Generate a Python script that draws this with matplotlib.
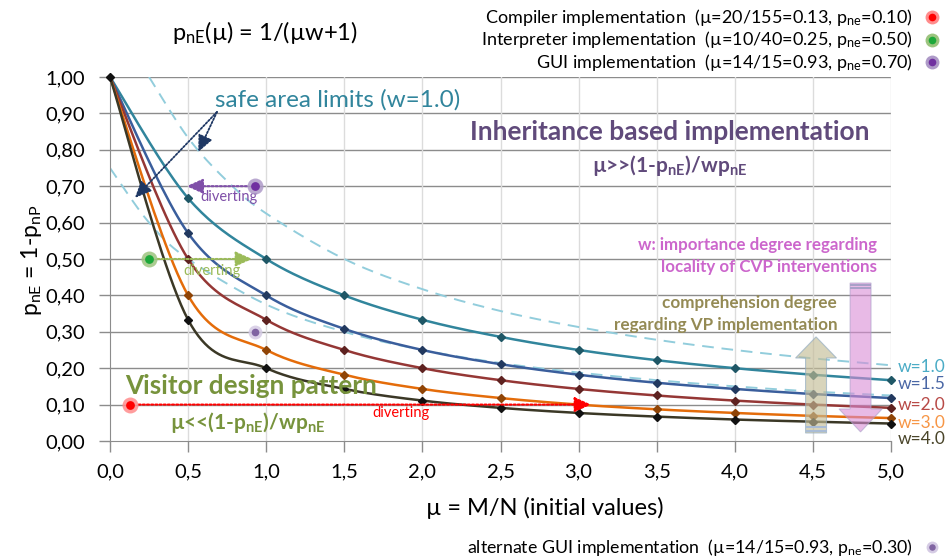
import numpy as np
import matplotlib
matplotlib.use('Agg')
import matplotlib.pyplot as plt
from matplotlib.patches import FancyArrow, Rectangle

plt.rcParams['font.family'] = ['Lato', 'DejaVu Sans']
plt.rcParams['mathtext.default'] = 'regular'

# model curves p = 1/(mu*w+1), sampled every 0.5
mu = [0.0, 0.5, 1.0, 1.5, 2.0, 2.5, 3.0, 3.5, 4.0, 4.5, 5.0]
p_w10 = [1.0, 0.667, 0.500, 0.400, 0.333, 0.286, 0.250, 0.222, 0.200, 0.182, 0.167]
p_w15 = [1.0, 0.571, 0.400, 0.308, 0.250, 0.211, 0.182, 0.160, 0.143, 0.129, 0.118]
p_w20 = [1.0, 0.500, 0.333, 0.250, 0.200, 0.167, 0.143, 0.125, 0.111, 0.100, 0.091]
p_w30 = [1.0, 0.400, 0.250, 0.182, 0.143, 0.118, 0.100, 0.087, 0.077, 0.069, 0.063]
p_w40 = [1.0, 0.333, 0.200, 0.143, 0.111, 0.091, 0.077, 0.067, 0.059, 0.053, 0.048]
w_labels = ['w=1.0', 'w=1.5', 'w=2.0', 'w=3.0', 'w=4.0']
w_label_y = [0.203, 0.157, 0.098, 0.049, 0.005]

# safe area limits around w=1.0
mu_upper = [0.25, 0.5, 0.75, 1.0, 1.5, 2.0, 2.5, 3.0, 3.5, 4.0, 4.5, 5.0]
p_upper = [1.0, 0.833, 0.714, 0.625, 0.500, 0.417, 0.357, 0.313, 0.278, 0.250, 0.227, 0.208]
mu_lower = [0.0, 0.25, 0.5, 1.0, 1.5, 2.0, 2.5, 3.0, 3.5, 4.0, 4.5, 5.0]
p_lower = [0.75, 0.600, 0.500, 0.375, 0.300, 0.250, 0.214, 0.188, 0.167, 0.150, 0.136, 0.125]

# implementations
impl_names = ['Compiler implementation', 'Interpreter implementation', 'GUI implementation',
              'alternate GUI implementation']
impl_ratio = ['20/155', '10/40', '14/15', '14/15']
impl_mu = [0.13, 0.25, 0.93, 0.93]
impl_p = [0.10, 0.50, 0.70, 0.30]
divert_to = [3.08, 0.91, 0.49]

line_colors = ['#31859C', '#3A5E9C', '#953735', '#E46C0A', '#3B3826']
mark_colors = ['#1F5766', '#22395F', '#5E2220', '#8F4406', '#111111']
wlab_colors = ['#4BACC6', '#4A67A5', '#B84A47', '#F79646', '#4A452A']
dot_colors = ['#FF0000', '#1DA83A', '#7030A0', '#8064A2']
halo_colors = ['#FF8C8C', '#9CC47E', '#AE9AC8', '#D5CBE4']


def smooth(xs, ys, n=24):
    # bezier smoothing through the points, like a spreadsheet "smoothed line"
    pts = np.column_stack([xs, ys]).astype(float)
    P = np.vstack([pts[0], pts, pts[-1]])
    t = np.linspace(0, 1, n)[:, None]
    segs = []
    for i in range(1, len(P) - 2):
        p0, p1, p2, p3 = P[i - 1], P[i], P[i + 1], P[i + 2]
        c1 = p1 + (p2 - p0) / 6
        c2 = p2 - (p3 - p1) / 6
        segs.append((1 - t) ** 3 * p1 + 3 * (1 - t) ** 2 * t * c1 + 3 * (1 - t) * t ** 2 * c2 + t ** 3 * p2)
    s = np.vstack(segs)
    return s[:, 0], s[:, 1]


fig = plt.figure(figsize=(9.49, 5.59), dpi=100)
ax = fig.add_axes([0.1159, 0.2111, 0.8230, 0.6512])
ax.set_xlim(0, 5)
ax.set_ylim(0, 1)

for y in np.arange(0.1, 1.01, 0.1):
    ax.axhline(y, color='#8C8C8C', lw=1, zorder=0)
for x in np.arange(0.5, 5.01, 0.5):
    ax.axvline(x, color='#DCDCDC', lw=1, zorder=0)
for s in ['top', 'right']:
    ax.spines[s].set_visible(False)
for s in ['left', 'bottom']:
    ax.spines[s].set_color('#8C8C8C')
ax.set_xticks(mu)
ax.set_xticklabels([('%.1f' % v).replace('.', ',') for v in mu])
yt = np.round(np.arange(0, 1.01, 0.1), 2)
ax.set_yticks(yt)
ax.set_yticklabels([('%.2f' % v).replace('.', ',') for v in yt])
ax.tick_params(colors='#8C8C8C', length=8, width=1, labelcolor='black', labelsize=14.5)
ax.tick_params(axis='y', pad=10)
ax.tick_params(axis='x', pad=8)

# dashed safe-area limits
ux, uy = smooth(mu_upper, p_upper)
lx, ly = smooth(mu_lower, p_lower)
ax.plot(ux, uy, color='#92CDDC', lw=1.4, ls=(0, (6, 4)), zorder=2)
ax.plot(lx, ly, color='#92CDDC', lw=1.4, ls=(0, (6, 4)), zorder=2)

curves = [p_w10, p_w15, p_w20, p_w30, p_w40]
for k in range(len(curves)):
    sx, sy = smooth(mu, curves[k])
    ax.plot(sx, sy, color=line_colors[k], lw=1.8, zorder=3, clip_on=False)
    ax.plot(mu[1:], curves[k][1:], ls='none', marker='D', ms=4.5, color=mark_colors[k],
            zorder=4, clip_on=False)
    ax.text(5.04, w_label_y[k], w_labels[k], color=wlab_colors[k], fontsize=12.5, va='center')
ax.plot(mu[0], p_w40[0], marker='D', ms=4.5, color='#111111', zorder=5, clip_on=False)

# block arrows
up = FancyArrow(4.52, 0.022, 0, 0.264, width=0.134, head_width=0.262, head_length=0.058,
                length_includes_head=True, facecolor='#C4BD97', alpha=0.65, edgecolor='#8EA9C1',
                lw=0.8, zorder=5)
ax.add_patch(up)
down = FancyArrow(4.805, 0.434, 0, -0.409, width=0.134, head_width=0.276, head_length=0.063,
                  length_includes_head=True, facecolor='#D98CD6', alpha=0.6, edgecolor='#A9A0C8',
                  lw=0.8, zorder=5)
ax.add_patch(down)
for yy in [0.026, 0.036]:
    ax.add_patch(Rectangle((4.453, yy), 0.134, 0.005, facecolor='#A9BCD6', edgecolor='none', zorder=6))
for yy in [0.418, 0.427]:
    ax.add_patch(Rectangle((4.738, yy), 0.134, 0.005, facecolor='#A9A0C8', edgecolor='none', zorder=6))

# implementation points with diverting arrows
for k in range(4):
    big = 11.5 if k < 3 else 10
    ax.plot(impl_mu[k], impl_p[k], 'o', ms=big, color=halo_colors[k], alpha=0.85, mec='none', zorder=7)
    ax.plot(impl_mu[k], impl_p[k], 'o', ms=big * 0.55, color=dot_colors[k], mec='none', zorder=8)

arrow_cols = ['#FF0000', '#9BBB59', '#7F4FA8']
for k in range(3):
    ax.annotate('', xy=(divert_to[k], impl_p[k]), xytext=(impl_mu[k], impl_p[k]),
                arrowprops=dict(arrowstyle='-|>,head_length=1.0,head_width=0.45', color=arrow_cols[k],
                                lw=1.5, ls=(0, (1, 1)), shrinkA=6, shrinkB=0), zorder=6)
ax.text(1.86, 0.077, 'diverting', color='#FF0000', fontsize=10.5, ha='center', va='center')
ax.text(0.65, 0.467, 'diverting', color='#9BBB59', fontsize=10.5, ha='center', va='center')
ax.text(0.76, 0.67, 'diverting', color='#7F4FA8', fontsize=10.5, ha='center', va='center')

# safe area annotation
ax.text(0.672, 0.937, 'safe area limits (w=1.0)', color='#31859C', fontsize=17.5, va='center')
for tip in [(0.565, 0.794), (0.16, 0.668)]:
    ax.annotate('', xy=tip, xytext=(0.685, 0.904),
                arrowprops=dict(arrowstyle='-|>,head_length=1.0,head_width=0.45', color='#1F3864',
                                lw=1.3, ls=(0, (1, 1)), shrinkA=0, shrinkB=0), zorder=6)

ax.text(3.585, 0.849, 'Inheritance based implementation', color='#604A7B', fontsize=19,
        fontweight='bold', ha='center', va='center')
ax.text(3.585, 0.758, 'µ>>(1-p$_{nE}$)/wp$_{nE}$', color='#604A7B', fontsize=15,
        fontweight='bold', ha='center', va='center')
ax.text(4.91, 0.538, 'w: importance degree regarding', color='#CC66CC', fontsize=12.2,
        fontweight='bold', ha='right', va='center')
ax.text(4.91, 0.478, 'locality of CVP interventions', color='#CC66CC', fontsize=12.2,
        fontweight='bold', ha='right', va='center')
ax.text(4.655, 0.379, 'comprehension degree', color='#948A54', fontsize=12.3,
        fontweight='bold', ha='right', va='center')
ax.text(4.655, 0.319, 'regarding VP implementation', color='#948A54', fontsize=12.3,
        fontweight='bold', ha='right', va='center')
ax.text(0.096, 0.151, 'Visitor design pattern', color='#77933C', fontsize=18.8,
        fontweight='bold', ha='left', va='center', zorder=9)
ax.text(0.88, 0.052, 'µ<<(1-p$_{nE}$)/wp$_{nE}$', color='#77933C', fontsize=15,
        fontweight='bold', ha='center', va='center', zorder=9)

fig.text(545 / 949, 1 - 508 / 559, 'µ = M/N (initial values)', fontsize=17, ha='center', va='center')
fig.text(32 / 949, 1 - 260 / 559, 'p$_{nE}$ = 1-p$_{nP}$', fontsize=16.5, ha='center', va='center',
         rotation=90)

fig.text(265 / 949, 1 - 33 / 559, 'p$_{nE}$(µ) = 1/(µw+1)', fontsize=17, ha='center', va='center')

# legend entries
leg_y = [1 - 17 / 559, 1 - 40 / 559, 1 - 62 / 559, 1 - 547 / 559]
for k in range(4):
    txt = '%s  (µ=%s=%.2f, p$_{ne}$=%.2f)' % (impl_names[k], impl_ratio[k], impl_mu[k], impl_p[k])
    fig.text(0.962, leg_y[k], txt, fontsize=13 if k < 3 else 12.8, ha='right', va='center')
    big = 10 if k < 3 else 8.5
    fig.lines.append(plt.Line2D([0.982], [leg_y[k]], marker='o', ms=big, color=halo_colors[k],
                                mec='none', transform=fig.transFigure, figure=fig))
    fig.lines.append(plt.Line2D([0.982], [leg_y[k]], marker='o', ms=big * 0.55, color=dot_colors[k],
                                mec='none', transform=fig.transFigure, figure=fig))

fig.savefig('out.png', dpi=100)
